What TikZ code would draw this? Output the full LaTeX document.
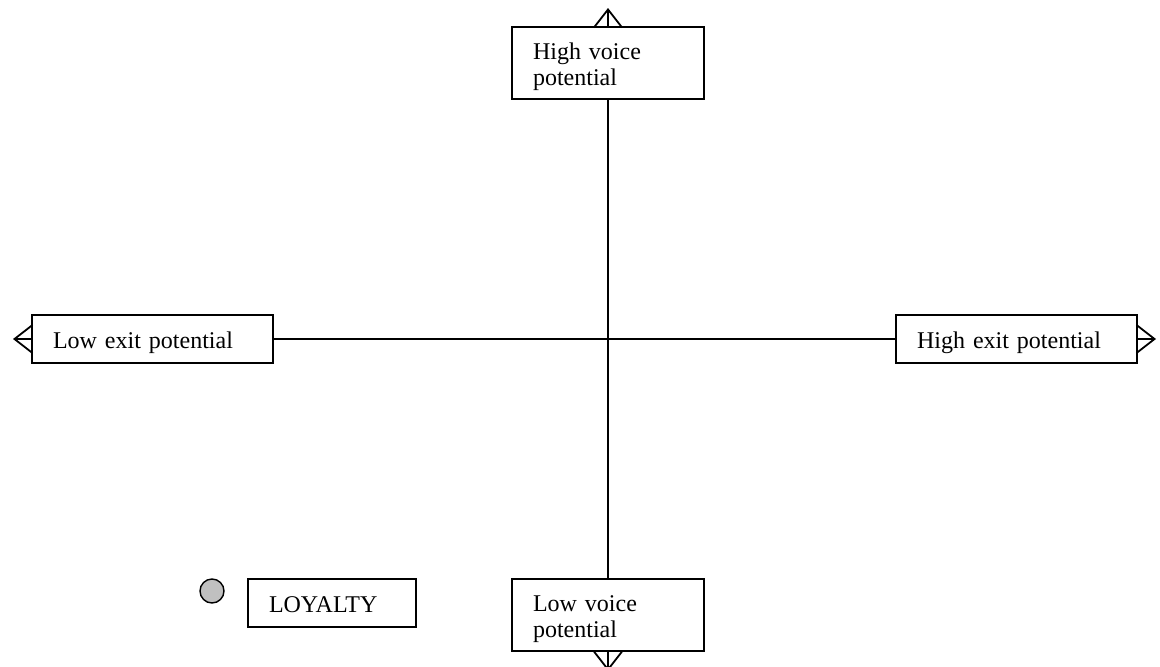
\documentclass[tikz,border=0pt]{standalone}
\usepackage{fontspec}
\setmainfont{Liberation Serif}
\usetikzlibrary{arrows.meta}
\tikzstyle{every path}=[line width=1.8pt]
\tikzstyle{axis} = [-{Straight Barb[length=18pt,width=28pt]}]
\tikzstyle{labelbox} = [draw, fill=white, inner xsep=21pt, inner ysep=0pt, align=left, font=\fontsize{24}{26}\selectfont]
\tikzstyle{onerow} = [labelbox, text height=33pt, text depth=15pt]
\tikzstyle{tworow} = [labelbox, text height=32pt, text depth=40pt]
\definecolor{loyaltydot}{RGB}{192,192,192}

\begin{document}
\begin{tikzpicture}[x=1pt, y=-1pt]
            \useasboundingbox (0,0) rectangle (1160,667);

            % voice axis
            \node[tworow, text width=150pt] (highvoice) at (608,63) {High voice\\potential};
            \node[tworow, text width=150pt] (lowvoice) at (608,615) {Low voice\\potential};
            \coordinate (uptip) at (608,8);
            \coordinate (downtip) at (608,671);

            % exit axis
            \node[onerow, text width=199pt] (lowexit) at (152.5,339) {Low exit potential};
            \node[onerow, text width=199pt] (highexit) at (1016.5,339) {High exit potential};
            \coordinate (lefttip) at (13,339);
            \coordinate (righttip) at (1156,339);

            \draw[axis] (highvoice.north) -- (uptip);
            \draw (highvoice.south) -- (lowvoice.north);
            \draw[axis] (lowvoice.south) -- (downtip);
            \draw[axis] (lowexit.west) -- (lefttip);
            \draw (lowexit.east) -- (highexit.west);
            \draw[axis] (highexit.east) -- (righttip);

            % legend
            \node[circle, draw, fill=loyaltydot, minimum size=24pt, inner sep=0pt, line width=1.4pt] (dot) at (212,591) {};
            \node[onerow, text width=126pt] (loyalty) at (332,603) {LOYALTY};
\end{tikzpicture}
\end{document}
